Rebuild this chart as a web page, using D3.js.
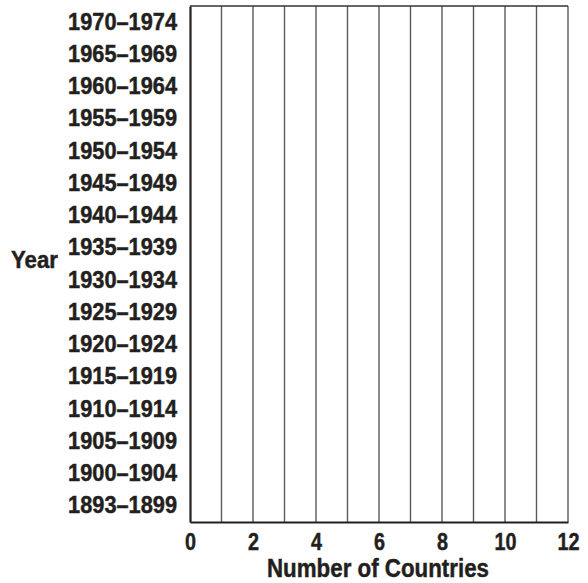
<!DOCTYPE html>
<html>
<head>
<meta charset="utf-8">
<script src="https://cdn.jsdelivr.net/npm/d3@7"></script>
<style>
  body { margin: 0; background: #fff; }
  text { font-family: "Liberation Sans", Arial, sans-serif; font-weight: bold; fill: #231f20; stroke: #231f20; stroke-width: 0.45px; }
</style>
</head>
<body>
<div id="chart"></div>
<script>
// year groups, bottom to top as in the figure
let years = ["1893–1899", "1900–1904", "1905–1909", "1910–1914", "1915–1919",
             "1920–1924", "1925–1929", "1930–1934", "1935–1939", "1940–1944",
             "1945–1949", "1950–1954", "1955–1959", "1960–1964", "1965–1969", "1970–1974"];
// countries per period (the chart is a blank worksheet grid)
let countries = [0, 0, 0, 0, 0, 0, 0, 0, 0, 0, 0, 0, 0, 0, 0, 0];
let xTicks = [0, 2, 4, 6, 8, 10, 12];
let xMax = 12;

let margin = {top: 6, right: 20, bottom: 61, left: 190};
let width = 588, height = 583;

let svg = d3.select("#chart").append("svg")
    .attr("width", width)
    .attr("height", height);

let x = d3.scaleLinear()
    .domain([0, xMax])
    .range([margin.left, width - margin.right]);

let y = d3.scaleBand()
    .domain(years.slice().reverse())
    .range([margin.top, height - margin.bottom]);

// grid lines, one per unit
svg.append("g")
    .selectAll("line")
    .data(d3.range(1, xMax + 1))
    .join("line")
    .attr("x1", d => x(d)).attr("x2", d => x(d))
    .attr("y1", margin.top).attr("y2", height - margin.bottom)
    .attr("stroke", "#5a5a5a")
    .attr("stroke-width", 1.4);

// top border
svg.append("line")
    .attr("x1", x(0)).attr("x2", x(xMax))
    .attr("y1", margin.top).attr("y2", margin.top)
    .attr("stroke", "#333")
    .attr("stroke-width", 1.6);

// bars (all zero)
svg.append("g")
    .selectAll("rect")
    .data(countries)
    .join("rect")
    .attr("x", x(0))
    .attr("y", (d, i) => y(years[i]))
    .attr("height", y.bandwidth())
    .attr("width", d => x(d) - x(0))
    .attr("fill", "#888");

// condensed look: squeeze the text to the widths of the figure
function squeeze(sel, perChar) {
    sel.attr("textLength", function() { return this.textContent.length * perChar; })
       .attr("lengthAdjust", "spacingAndGlyphs");
}

let yAxis = svg.append("g")
    .attr("transform", "translate(" + margin.left + ",0)")
    .call(d3.axisLeft(y).tickSize(0).tickPadding(13));
yAxis.select(".domain").attr("stroke", "#231f20").attr("stroke-width", 2.2);
yAxis.selectAll("text").style("font-size", "23px").attr("dy", "0.32em").call(squeeze, 12.1);

let xAxis = svg.append("g")
    .attr("transform", "translate(0," + (height - margin.bottom) + ")")
    .call(d3.axisBottom(x).tickValues(xTicks).tickSize(0).tickPadding(12));
xAxis.select(".domain").attr("stroke", "#231f20").attr("stroke-width", 2.2);
xAxis.selectAll("text").style("font-size", "23px").call(squeeze, 11);

svg.append("text")
    .attr("x", x(6) - 1)
    .attr("y", 577)
    .attr("text-anchor", "middle")
    .style("font-size", "25px")
    .attr("textLength", 222)
    .attr("lengthAdjust", "spacingAndGlyphs")
    .text("Number of Countries");

svg.append("text")
    .attr("x", 11)
    .attr("y", 268)
    .style("font-size", "23px")
    .attr("textLength", 47)
    .attr("lengthAdjust", "spacingAndGlyphs")
    .text("Year");
</script>
</body>
</html>
